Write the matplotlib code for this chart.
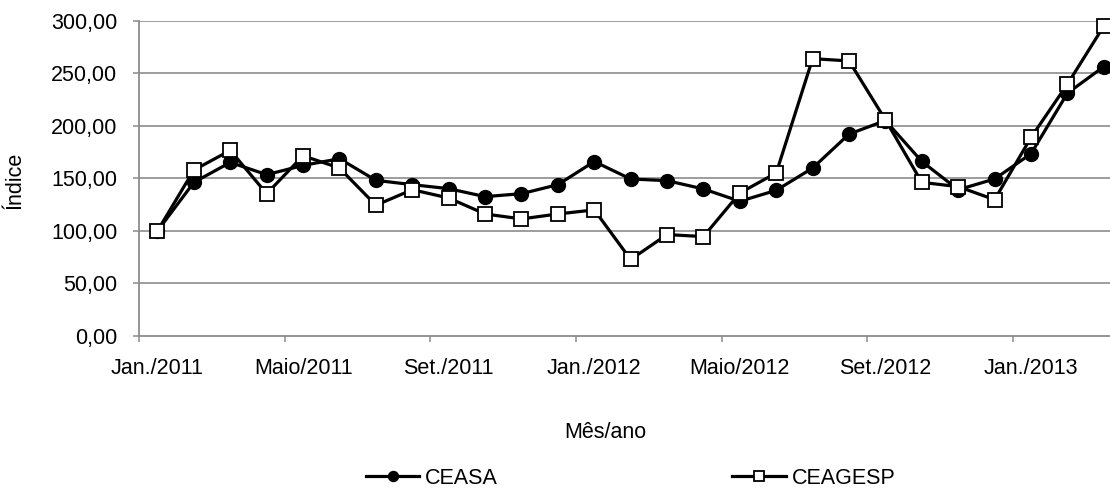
import matplotlib
matplotlib.use("Agg")
import matplotlib.pyplot as plt
from matplotlib.ticker import FixedLocator, FuncFormatter

plt.rcParams['font.family'] = ['Liberation Sans', 'DejaVu Sans']

# Months Jan./2011 .. Mar./2013 (27 months)
n_months = 27
tick_labels = ["Jan./2011", "Maio/2011", "Set./2011", "Jan./2012",
               "Maio/2012", "Set./2012", "Jan./2013"]
ceasa = [100.0, 146.2, 165.2, 153.5, 162.3, 168.7, 148.1, 144.0, 140.2,
         132.6, 135.4, 144.0, 166.0, 149.4, 147.8, 139.9, 128.2, 138.6,
         159.8, 192.1, 205.0, 166.1, 139.2, 149.4, 173.4, 231.0, 256.3]
ceagesp = [100.0, 157.9, 176.6, 135.4, 171.5, 159.8, 124.4, 139.2, 131.3,
           116.1, 111.4, 116.1, 120.0, 72.8, 96.5, 94.6, 136.1, 155.1,
           263.9, 261.7, 205.7, 146.2, 142.1, 129.7, 188.9, 239.6, 294.9]
y_ticks = [0, 50, 100, 150, 200, 250, 300]

FS = 15.5
W, H = 1110, 488
fig = plt.figure(figsize=(W / 100, H / 100), dpi=100)
left, right, top, bottom = 139.3, 1122.0, 20.7, 336.0
ax = fig.add_axes([left / W, (H - bottom) / H, (right - left) / W, (bottom - top) / H])

x = list(range(n_months))
grid_c = "#8c8c8c"

l1, = ax.plot(x, ceasa, color="black", lw=2.3, marker="o", ms=10,
              mfc="black", mec="black", clip_on=False, zorder=3, label="CEASA")
l2, = ax.plot(x, ceagesp, color="black", lw=2.3, marker="s", ms=10,
              mfc="white", mec="black", mew=1.3, clip_on=False, zorder=4,
              label="CEAGESP")

ax.set_xlim(-0.5, n_months - 0.5)
ax.set_ylim(0, 300)

# y axis
ax.yaxis.set_major_locator(FixedLocator(y_ticks))
ax.yaxis.set_major_formatter(FuncFormatter(lambda v, p: f"{v:.2f}".replace(".", ",")))
ax.tick_params(axis="y", direction="out", length=4.3, width=1.1, color=grid_c,
               pad=11.5, labelsize=FS)
for v in y_ticks[1:]:
    ax.axhline(v, color=grid_c, lw=1.2, zorder=1)

# x axis: labels at every 4th month, tick marks at category boundaries
label_pos = list(range(0, n_months, 4))
ax.xaxis.set_major_locator(FixedLocator(label_pos))
ax.set_xticklabels(tick_labels)
ax.xaxis.set_minor_locator(FixedLocator([p - 0.5 for p in label_pos]))
ax.tick_params(axis="x", which="major", length=0, pad=16, labelsize=FS)
ax.tick_params(axis="x", which="minor", direction="out", length=4.3, width=1.1,
               color=grid_c)

for s in ["top", "right"]:
    ax.spines[s].set_visible(False)
for s in ["left", "bottom"]:
    ax.spines[s].set_color(grid_c)
    ax.spines[s].set_linewidth(1.3)

fig.text(15 / W, (H - 180) / H, "Índice", rotation=90, ha="center",
         va="center", fontsize=FS)
fig.text(605 / W, (H - 433) / H, "Mês/ano", ha="center", va="center",
         fontsize=FS)

fig.legend(handles=[l1, l2], labels=["CEASA", "CEAGESP"], loc="center",
           bbox_to_anchor=(630.5 / W, (H - 478.5) / H), ncol=2, frameon=False,
           handlelength=2.5, handletextpad=0.25, columnspacing=10.9,
           fontsize=FS, borderpad=0, borderaxespad=0, markerscale=0.72)

fig.savefig("out.png", dpi=100)
